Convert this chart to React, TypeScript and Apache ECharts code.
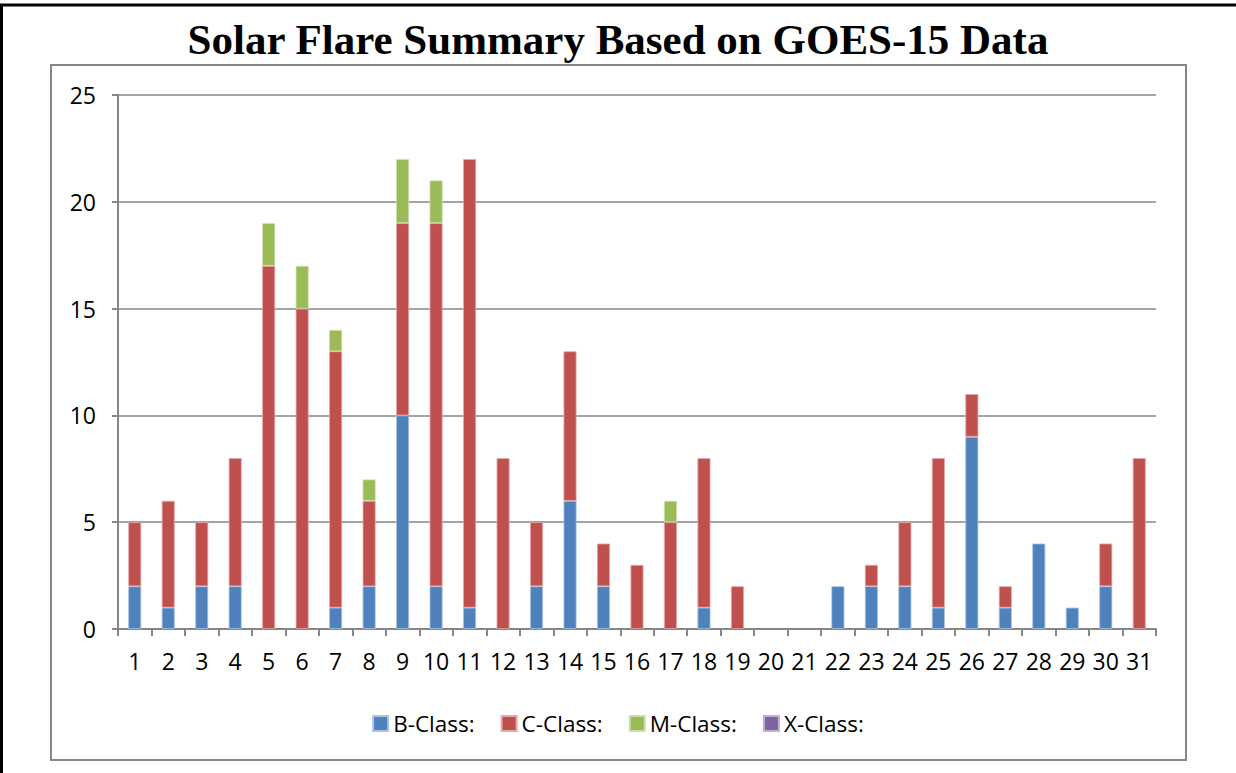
import React, { useEffect, useRef } from "react";
import * as echarts from "echarts";

const days = Array.from({ length: 31 }, (_, i) => String(i + 1));
const bClass = [2, 1, 2, 2, 0, 0, 1, 2, 10, 2, 1, 0, 2, 6, 2, 0, 0, 1, 0, 0, 0, 2, 2, 2, 1, 9, 1, 4, 1, 2, 0];
const cClass = [3, 5, 3, 6, 17, 15, 12, 4, 9, 17, 21, 8, 3, 7, 2, 3, 5, 7, 2, 0, 0, 0, 1, 3, 7, 2, 1, 0, 0, 2, 8];
const mClass = [0, 0, 0, 0, 2, 2, 1, 1, 3, 2, 0, 0, 0, 0, 0, 0, 1, 0, 0, 0, 0, 0, 0, 0, 0, 0, 0, 0, 0, 0, 0];
const xClass = [0, 0, 0, 0, 0, 0, 0, 0, 0, 0, 0, 0, 0, 0, 0, 0, 0, 0, 0, 0, 0, 0, 0, 0, 0, 0, 0, 0, 0, 0, 0];
const seriesNames = ["B-Class:", "C-Class:", "M-Class:", "X-Class:"];
const colors = ["#4F81BD", "#C0504D", "#9BBB59", "#8064A2"];
const borders = ["#A9C4E6", "#E6A9A8", "#CDE0AC", "#BFB0D3"];

export default function App() {
  const ref = useRef<HTMLDivElement>(null);
  useEffect(() => {
    if (!ref.current) return;
    const chart = echarts.init(ref.current, null, { renderer: "svg" });
    const all = [bClass, cClass, mClass, xClass];
    const axisGray = "#868686";
    chart.setOption({
      animation: false,
      backgroundColor: "#ffffff",
      title: {
        text: "Solar Flare Summary Based on GOES-15 Data",
        left: "center",
        top: 13,
        textStyle: {
          fontFamily: "Liberation Serif",
          fontWeight: "bold",
          fontSize: 43,
          color: "#000",
        },
      },
      graphic: [
        { type: "line", shape: { x1: 0, y1: 5, x2: 1236, y2: 5 }, style: { stroke: "#000", lineWidth: 3 } },
        { type: "line", shape: { x1: 1.5, y1: 5, x2: 1.5, y2: 773 }, style: { stroke: "#000", lineWidth: 3 } },
        { type: "rect", shape: { x: 51, y: 65, width: 1135, height: 695 }, style: { stroke: axisGray, lineWidth: 2, fill: "none" } },
      ],
      legend: {
        data: seriesNames,
        top: 707,
        left: "center",
        icon: "rect",
        itemWidth: 15,
        itemHeight: 15,
        itemGap: 26,
        textStyle: { fontFamily: "Open Sans", fontSize: 22.5, color: "#000" },
      },
      grid: { left: 118, right: 80, top: 95, bottom: 144 },
      xAxis: {
        type: "category",
        data: days,
        axisLine: { lineStyle: { color: axisGray, width: 2 } },
        axisTick: { show: true, length: 7, alignWithLabel: false, lineStyle: { color: axisGray, width: 2 } },
        axisLabel: { fontFamily: "Open Sans", fontSize: 23, color: "#000", margin: 20, interval: 0 },
      },
      yAxis: {
        type: "value",
        min: 0,
        max: 25,
        interval: 5,
        axisLine: { show: true, lineStyle: { color: axisGray, width: 2 } },
        axisTick: { show: true, length: 6, lineStyle: { color: axisGray, width: 2 } },
        splitLine: { lineStyle: { color: axisGray, width: 1.5 } },
        axisLabel: { fontFamily: "Open Sans", fontSize: 23, color: "#000", margin: 22 },
      },
      series: seriesNames.map((name, i) => ({
        name,
        type: "bar",
        stack: "total",
        barWidth: 13,
        itemStyle: { color: colors[i], borderColor: borders[i], borderWidth: 0.8 },
        data: all[i].map((v) => (v === 0 ? null : v)),
      })),
    });
    return () => chart.dispose();
  }, []);
  return (
    <div
      ref={ref}
      style={{ position: "fixed", left: 0, top: 0, width: 1236, height: 773 }}
    />
  );
}
